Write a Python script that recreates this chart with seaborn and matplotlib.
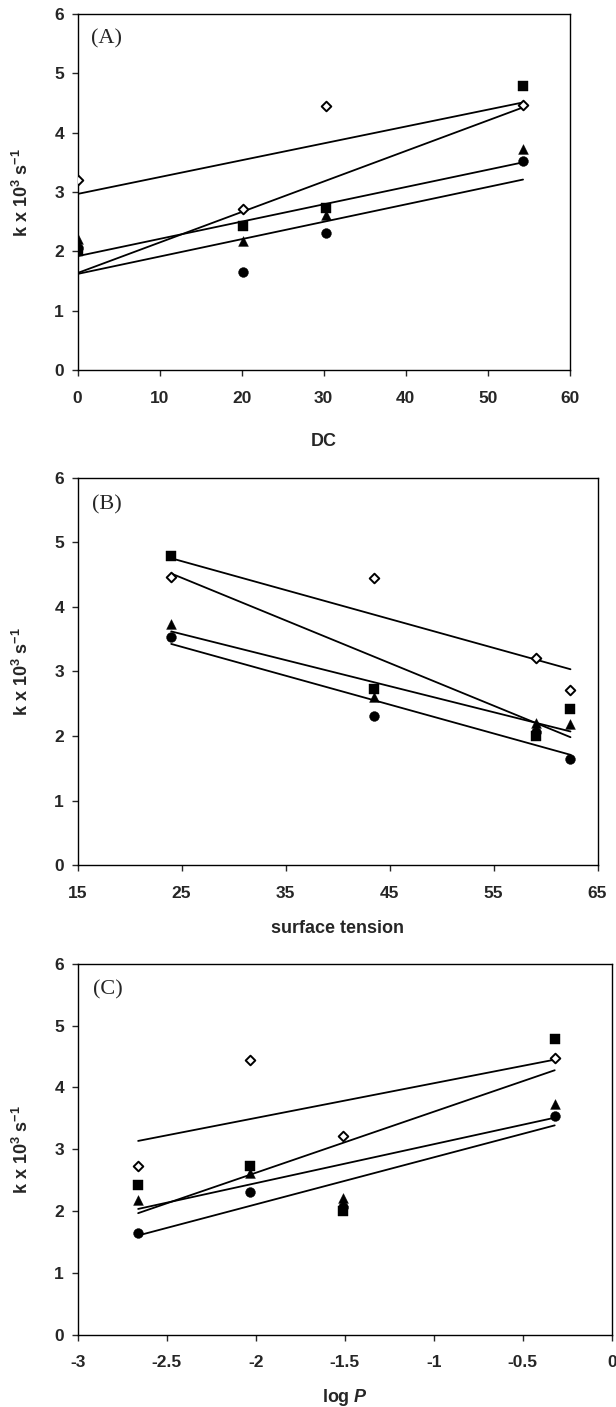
import pandas as pd
import seaborn as sns
import matplotlib.pyplot as plt

# data: 4 solvents, 4 series
dc = [0, 20.2, 30.3, 54.3]
surface_tension = [59.1, 62.4, 43.5, 24.0]
log_p = [-1.51, -2.66, -2.03, -0.32]

k_square = [2.00, 2.42, 2.73, 4.78]
k_diamond = [3.21, 2.72, 4.45, 4.47]
k_triangle = [2.21, 2.18, 2.61, 3.73]
k_circle = [2.06, 1.65, 2.31, 3.53]

series = {'circle': k_circle, 'triangle': k_triangle,
          'square': k_square, 'diamond': k_diamond}

rows = []
for name, ks in series.items():
    for i in range(len(dc)):
        rows.append({'series': name, 'DC': dc[i], 'ST': surface_tension[i],
                     'logP': log_p[i], 'k': ks[i]})
df = pd.DataFrame(rows)

sns.set_style("ticks")
plt.rcParams['font.family'] = ['Liberation Sans', 'DejaVu Sans']
plt.rcParams['font.weight'] = 'bold'
plt.rcParams['axes.unicode_minus'] = False
plt.rcParams['mathtext.fontset'] = 'custom'
plt.rcParams['mathtext.rm'] = 'Liberation Sans:bold'
plt.rcParams['mathtext.bf'] = 'Liberation Sans:bold'
plt.rcParams['mathtext.it'] = 'Liberation Sans:bold:italic'
plt.rcParams['mathtext.default'] = 'bf'

styles = {
    'circle': dict(marker='o', s=50, facecolors='black', linewidths=0.3),
    'triangle': dict(marker='^', s=50, facecolors='black', linewidths=0.3),
    'square': dict(marker='s', s=44, facecolors='black', linewidths=0.3),
    'diamond': dict(marker='D', s=24, facecolors='white', linewidths=1.4),
}

fig = plt.figure(figsize=(6.16, 14.07), dpi=100)

panels = [
    # rect, x column, xlim, xticks, xticklabels, xlabel, tag
    ([0.126, 0.737, 0.799, 0.253], 'DC', (0, 60), range(0, 61, 10), None, 'DC', '(A)', -0.202),
    ([0.126, 0.385, 0.844, 0.2755], 'ST', (15, 65), range(15, 66, 10), None, 'surface tension', '(B)', -0.163),
    ([0.126, 0.0515, 0.867, 0.2635], 'logP', (-3, 0), [-3, -2.5, -2, -1.5, -1, -0.5, 0],
     ['-3', '-2.5', '-2', '-1.5', '-1', '-0.5', '0'], r'log $\mathit{P}$', '(C)', -0.169),
]

for rect, xcol, xlim, xticks, xticklabels, xlabel, tag, xlab_y in panels:
    ax = fig.add_axes(rect)
    for name in series:
        st = styles[name]
        sns.regplot(data=df[df['series'] == name], x=xcol, y='k', ax=ax,
                    ci=None, truncate=True, color='black', marker=st['marker'],
                    scatter_kws=dict(s=st['s'], facecolors=st['facecolors'],
                                     edgecolors='black', linewidths=st['linewidths'],
                                     alpha=1, zorder=3),
                    line_kws=dict(lw=1.3, color='black', zorder=2))
    ax.set_xlim(*xlim)
    ax.set_ylim(0, 6)
    ax.set_xticks(list(xticks))
    if xticklabels is not None:
        ax.set_xticklabels(xticklabels)
    ax.set_yticks(range(0, 7))
    ax.tick_params(axis='both', direction='out', length=4.3, width=1,
                   labelsize=12.5, top=False, right=False)
    ax.tick_params(axis='x', pad=10.5)
    ax.tick_params(axis='y', pad=5.5)
    for sp in ax.spines.values():
        sp.set_linewidth(1)
        sp.set_color('black')
    ax.set_xlabel(xlabel, fontsize=13, fontweight='bold', va='center')
    ax.xaxis.set_label_coords(0.5, xlab_y)
    ax.set_ylabel(r'k x 10$^{3}$ s$^{-1}$', fontsize=13, fontweight='bold', va='center')
    ax.yaxis.set_label_coords(-56 / (rect[2] * 616), 0.5)
    ax.text(0.028, 0.93, tag, transform=ax.transAxes, ha='left', va='center',
            fontsize=16, fontweight='normal', family=['Liberation Serif'])

fig.savefig('out.png', dpi=100)
